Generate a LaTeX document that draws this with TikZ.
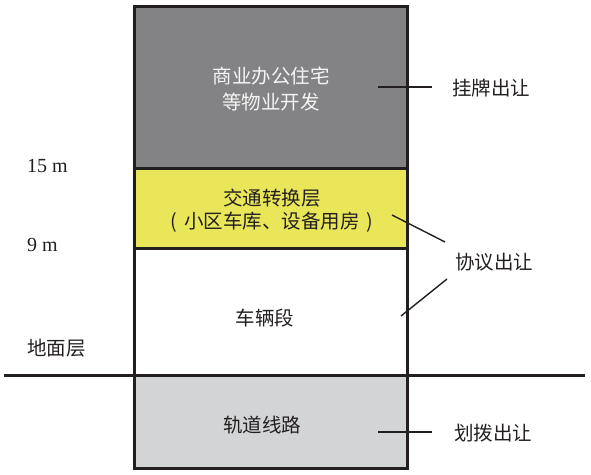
\documentclass[tikz,border=0pt]{standalone}
\usepackage{fontspec}
\setmainfont{Liberation Serif}
\newfontfamily\cjk{Noto Sans CJK SC}
\definecolor{inkc}{HTML}{231F20}
\definecolor{topgray}{HTML}{838386}
\definecolor{yel}{HTML}{EAE65A}
\definecolor{lgray}{HTML}{D3D4D6}
\begin{document}
\begin{tikzpicture}[x=1pt,y=-1pt,
  layer/.style={draw=inkc,line width=3pt,minimum width=273pt,inner sep=0pt,outer sep=0pt,anchor=north west},
  cn/.style={font=\cjk\fontsize{19.5}{26}\selectfont,text=inkc,align=center,inner sep=0pt},
  lv/.style={font=\fontsize{20}{24}\selectfont,text=inkc,inner sep=0pt,anchor=west},
  leader/.style={draw=inkc,line width=1.4pt}]
\useasboundingbox (0,0) rectangle (591,474);
% layers
\node[layer,fill=topgray,minimum height=162pt] (top) at (134.5,6.5) {};
\node[layer,fill=yel,minimum height=80pt] (mid) at (134.5,168.5) {};
\node[layer,fill=white,minimum height=127pt] (dep) at (134.5,248.5) {};
\node[layer,fill=lgray,minimum height=93pt] (rail) at (134.5,375.5) {};
% ground line
\coordinate (gl) at (4,375.5);
\coordinate (gr) at (585,375.5);
\draw[draw=inkc,line width=2.6pt] (gl) -- (gr);
% layer texts
\node[cn,text=white!96!black] (t1) at (271,89) {商业办公住宅\\等物业开发};
\node[cn,font=\cjk\fontsize{19.5}{23}\selectfont] (t2) at (272,211) {交通转换层\\(\hspace{7pt}小区车库、设备用房\hspace{7pt})};
\node[cn] (t3) at (265,318) {车辆段};
\node[cn] (t4) at (262,425) {轨道线路};
% level labels
\node[lv] (l15) at (27,166) {15 m};
\node[lv] (l9) at (27,245) {9 m};
\node[cn,anchor=west] (lg) at (27,348) {地面层};
% right labels
\node[cn] (r1) at (491,88) {挂牌出让};
\node[cn] (r2) at (494,262) {协议出让};
\node[cn] (r3) at (493,433) {划拨出让};
% leaders
\coordinate (a1) at (378,87);
\coordinate (b1) at (432,87);
\coordinate (a2) at (392,215);
\coordinate (b2) at (445,242);
\coordinate (a3) at (447,279);
\coordinate (b3) at (401,316);
\coordinate (a4) at (378,432);
\coordinate (b4) at (432,432);
\draw[leader] (a1) -- (b1);
\draw[leader] (a2) -- (b2);
\draw[leader] (a3) -- (b3);
\draw[leader] (a4) -- (b4);
\end{tikzpicture}
\end{document}
